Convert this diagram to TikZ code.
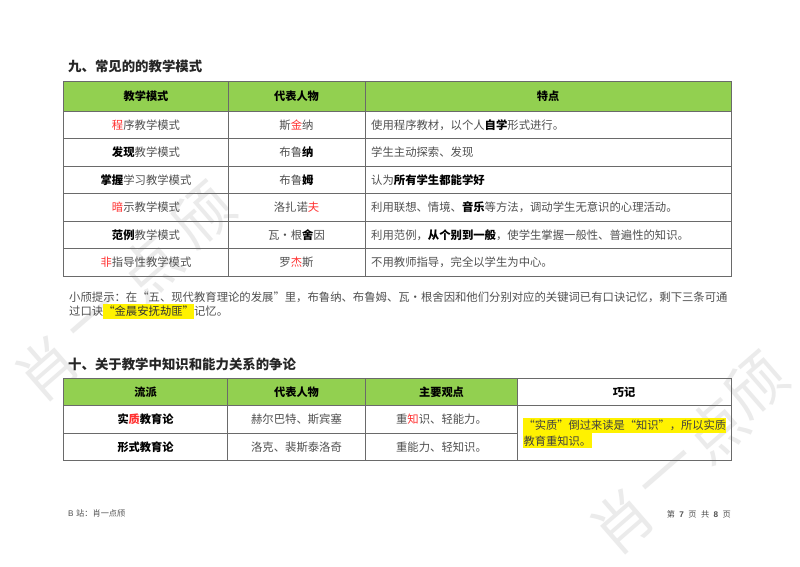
\documentclass[tikz,border=0pt]{standalone}
\usepackage{fontspec}
\setmainfont{Noto Sans CJK SC}
\newfontfamily\latinf{Liberation Sans}
\definecolor{txt}{HTML}{505050}
\definecolor{grn}{HTML}{92D050}
\definecolor{rul}{HTML}{6A6A6A}
\definecolor{wm}{HTML}{EBEBEB}
\definecolor{redc}{HTML}{FF3030}
\newcommand{\hb}[1]{{\bfseries\color{black}#1}}
\newcommand{\hr}[1]{{\color{redc}#1}}
\newcommand{\gp}{\hspace*{4.4pt}}
\newcommand{\qo}{\makebox[1em][c]{“}}
\newcommand{\qc}{\makebox[1em][c]{”}}
\tikzset{
  x=1pt,y=-1pt,
  body/.style={inner sep=0pt,text=txt,font=\fontsize{11.35}{14}\selectfont},
  head/.style={inner sep=0pt,text=black,font=\fontsize{11.2}{14}\selectfont\bfseries},
  lft/.style={body,anchor=west},
  memo/.style={inner sep=0pt,anchor=west,text=black!75,font=\fontsize{11.25}{14}\selectfont},
  title/.style={inner sep=0pt,anchor=west,text=black!85,font=\fontsize{13.4}{16}\selectfont\bfseries},
  rule/.style={draw=rul,line width=0.9pt},
  wmark/.style={inner sep=0pt,text=wm,rotate=41,font=\fontsize{60}{64}\selectfont},
  foot/.style={inner sep=0pt,text=txt,font=\fontsize{8.2}{10}\selectfont},
}
\begin{document}
\begin{tikzpicture}
\useasboundingbox[fill=white] (0,0) rectangle (800,566);
% watermarks
\node[wmark] (wa1) at (47,369) {肖};
\node[wmark] (wa2) at (100,322) {一};
\node[wmark] (wa3) at (150,268) {点};
\node[wmark] (wa4) at (203,215) {颀};
\node[wmark] (wb1) at (622,522) {肖};
\node[wmark] (wb2) at (672,478) {一};
\node[wmark] (wb3) at (716,430) {点};
\node[wmark] (wb4) at (756,385) {颀};
% titles
\node[title] (t1) at (68,66) {九、常见的的教学模式};
\node[title] (t2) at (68,364) {十、关于教学中知识和能力关系的争论};
% table 1
\fill[grn] (63.5,81) rectangle (731.5,111);
\draw[rule] (63.5,81) rectangle (731.5,276);
\foreach \yy in {111,138.7,166.3,193.7,221.3,248.7} \draw[rule] (63.5,\yy) -- (731.5,\yy);
\foreach \xx in {228.3,365} \draw[rule] (\xx,81) -- (\xx,276);
\node[head] (h1) at (146,96) {教学模式};
\node[head] (h2) at (296.5,96) {代表人物};
\node[head] (h3) at (548,96) {特点};
\node[body] (a1) at (146,125) {\hr{程}序教学模式};
\node[body] (a2) at (146,152.5) {\hb{发现}教学模式};
\node[body] (a3) at (146,180) {\hb{掌握}学习教学模式};
\node[body] (a4) at (146,207.5) {\hr{暗}示教学模式};
\node[body] (a5) at (146,235) {\hb{范例}教学模式};
\node[body] (a6) at (146,262.5) {\hr{非}指导性教学模式};
\node[body] (b1) at (296.5,125) {斯\hr{金}纳};
\node[body] (b2) at (296.5,152.5) {布鲁\hb{纳}};
\node[body] (b3) at (296.5,180) {布鲁\hb{姆}};
\node[body] (b4) at (296.5,207.5) {洛扎诺\hr{夫}};
\node[body] (b5) at (296.5,235) {瓦·根\hb{舍}因};
\node[body] (b6) at (296.5,262.5) {罗\hr{杰}斯};
\node[lft] (c1) at (371,125) {使用程序教材，以个人\hb{自学}形式进行。};
\node[lft] (c2) at (371,152.5) {学生主动探索、发现};
\node[lft] (c3) at (371,180) {认为\hb{所有学生都能学好}};
\node[lft] (c4) at (371,207.5) {利用联想、情境、\hb{音乐}等方法，调动学生无意识的心理活动。};
\node[lft] (c5) at (371,235) {利用范例，\hb{从个别到一般}，使学生掌握一般性、普遍性的知识。};
\node[lft] (c6) at (371,262.5) {不用教师指导，完全以学生为中心。};
% note
\fill[yellow] (103,304) rectangle (194,319);
\node[lft] (n1) at (69,297) {小颀提示：在\qo 五、现代教育理论的发展\qc 里，布鲁纳、布鲁姆、瓦\makebox[1em][c]{·}根舍因和他们分别对应的关键词已有口诀记忆，剩下三条可通};
\node[lft] (n2) at (69,311.5) {过口诀\textcolor{black!80}{\qo 金晨安抚劫匪\qc}记忆。};
% table 2
\fill[grn] (63.5,378.3) rectangle (517.7,405.7);
\draw[rule] (63.5,378.3) rectangle (731.3,460.7);
\draw[rule] (63.5,405.7) -- (731.3,405.7);
\draw[rule] (63.5,433.3) -- (517.7,433.3);
\foreach \xx in {227.7,365.7,517.7} \draw[rule] (\xx,378.3) -- (\xx,460.7);
\node[head] (p1) at (145.5,392) {流派};
\node[head] (p2) at (296.5,392) {代表人物};
\node[head] (p3) at (441.5,392) {主要观点};
\node[head] (p4) at (624,392) {巧记};
\node[head] (q1) at (145.5,419.5) {实\hr{质}教育论};
\node[head] (q2) at (145.5,447) {形式教育论};
\node[body] (r1) at (296.5,419.5) {赫尔巴特、斯宾塞};
\node[body] (r2) at (296.5,447) {洛克、裴斯泰洛奇};
\node[body] (s1) at (441.5,419.5) {重\hr{知}识、轻能力。};
\node[body] (s2) at (441.5,447) {重能力、轻知识。};
\fill[yellow] (523,418) rectangle (726,433);
\fill[yellow] (523,433) rectangle (591.5,448);
\node[memo] (k1) at (523.5,425.5) {\qo 实质\qc 倒过来读是\qo 知识\qc ，所以实质};
\node[memo] (k2) at (523.5,441) {教育重知识。};
% footer
\node[foot,anchor=west] (f1) at (68,513) {{\latinf B}\hspace*{2.5pt}站：肖一点颀};
\node[foot,anchor=east] (f2) at (731,514) {第\gp{\latinf\bfseries 7}\gp 页\gp 共\gp{\latinf\bfseries 8}\gp 页};
\end{tikzpicture}
\end{document}
